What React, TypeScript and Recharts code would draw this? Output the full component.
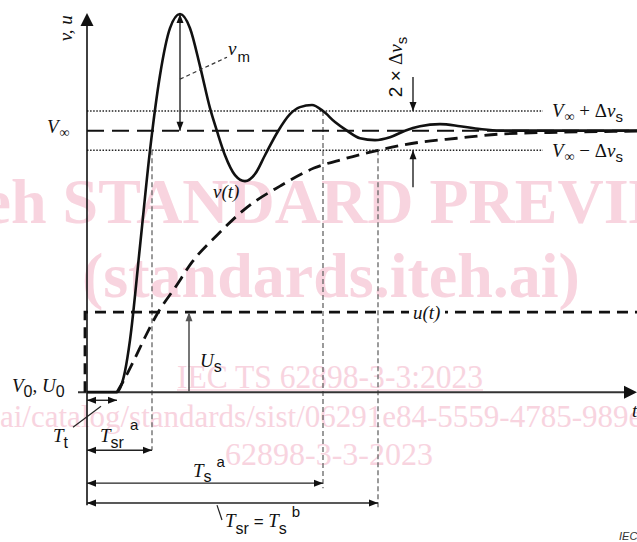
import React from 'react';
import { ComposedChart, Line, Scatter, XAxis, YAxis } from 'recharts';

const SERIF = "'Liberation Serif','Times New Roman',serif";
const SANS = "'Liberation Sans',Arial,sans-serif";
const PINK = '#f8d4df';

// v(t): response of the output (V_inf = 1)
const vCurve = [
  { t: 0, v: 0 }, { t: 0.6, v: 0 }, { t: 0.68, v: 0.023 }, { t: 0.76, v: 0.08 },
  { t: 0.86, v: 0.199 }, { t: 1.06, v: 0.558 }, { t: 1.26, v: 0.925 }, { t: 1.46, v: 1.212 },
  { t: 1.66, v: 1.392 }, { t: 1.86, v: 1.446 }, { t: 2.06, v: 1.392 }, { t: 2.26, v: 1.247 },
  { t: 2.46, v: 1.086 }, { t: 2.6, v: 0.998 }, { t: 2.76, v: 0.906 }, { t: 2.96, v: 0.83 },
  { t: 3.16, v: 0.807 }, { t: 3.36, v: 0.834 }, { t: 3.56, v: 0.906 }, { t: 3.82, v: 0.998 },
  { t: 4.06, v: 1.063 }, { t: 4.26, v: 1.09 }, { t: 4.5, v: 1.098 }, { t: 4.72, v: 1.075 },
  { t: 4.96, v: 1.033 }, { t: 5.2, v: 1.0 }, { t: 5.46, v: 0.971 }, { t: 5.76, v: 0.964 },
  { t: 6.06, v: 0.975 }, { t: 6.36, v: 1.0 }, { t: 6.66, v: 1.017 }, { t: 7.06, v: 1.025 },
  { t: 7.46, v: 1.017 }, { t: 7.86, v: 1.006 }, { t: 8.26, v: 1.0 }, { t: 11, v: 1.0 },
];

// aperiodic (overdamped) response
const expCurve = [
  { t: 0.6, v: 0 }, { t: 0.76, v: 0.054 }, { t: 0.96, v: 0.13 }, { t: 1.16, v: 0.21 },
  { t: 1.4, v: 0.298 }, { t: 1.78, v: 0.405 }, { t: 2.1, v: 0.497 }, { t: 2.62, v: 0.604 },
  { t: 3.2, v: 0.707 }, { t: 3.86, v: 0.788 }, { t: 4.54, v: 0.857 }, { t: 5.12, v: 0.891 },
  { t: 5.82, v: 0.925 }, { t: 6.66, v: 0.956 }, { t: 7.4, v: 0.971 }, { t: 8.26, v: 0.987 },
  { t: 9.46, v: 0.994 }, { t: 11, v: 0.998 },
];

// u(t): input step
const uCurve = [{ t: -0.04, v: 0 }, { t: -0.04, v: 0.306 }, { t: 11, v: 0.306 }];

const vInfLine = [{ t: 0, v: 1 }, { t: 11, v: 1 }];
const upperBand = [{ t: 0, v: 1.075 }, { t: 9.12, v: 1.075 }];
const lowerBand = [{ t: 0, v: 0.925 }, { t: 9.12, v: 0.925 }];

// projection lines
const tsrProj = [{ t: 1.3, v: 0.925 }, { t: 1.3, v: -0.222 }];
const tsProj = [{ t: 4.72, v: 1.075 }, { t: 4.72, v: -0.367 }];
const tsbProj = [{ t: 5.82, v: 0.925 }, { t: 5.82, v: -0.44 }];

// axes
const yAxisLine = [{ t: 0, v: -0.432 }, { t: 0, v: 1.41 }];
const xAxisLine = [{ t: -0.18, v: 0 }, { t: 10.8, v: 0 }];

// dimension arrows
const ttDim = [{ t: 0, v: -0.031 }, { t: 0.6, v: -0.031 }];
const tsrDim = [{ t: 0, v: -0.222 }, { t: 1.3, v: -0.222 }];
const tsDim = [{ t: 0, v: -0.348 }, { t: 4.72, v: -0.348 }];
const tsbDim = [{ t: 0, v: -0.424 }, { t: 5.82, v: -0.424 }];
const vmDim = [{ t: 1.86, v: 1.446 }, { t: 1.86, v: 1.0 }];
const usDim = [{ t: 2.04, v: 0 }, { t: 2.04, v: 0.3 }];
const dvTop = [{ t: 6.52, v: 1.205 }, { t: 6.52, v: 1.075 }];
const dvBot = [{ t: 6.52, v: 0.784 }, { t: 6.52, v: 0.925 }];

// leader lines
const vmLeader = [{ t: 1.86, v: 1.197 }, { t: 2.8, v: 1.281 }];
const ttLeader = [{ t: 0.28, v: -0.054 }, { t: -0.28, v: -0.134 }];
const tsbLeader = [{ t: 2.6, v: -0.432 }, { t: 2.7, v: -0.489 }];

const axisHeads = [
  { t: 0, v: 1.45, dir: 'up' },
  { t: 11, v: 0, dir: 'right' },
];
const dimHeads = [
  { t: 0, v: -0.031, dir: 'left' }, { t: 0.6, v: -0.031, dir: 'right' },
  { t: 0, v: -0.222, dir: 'left' }, { t: 1.3, v: -0.222, dir: 'right' },
  { t: 0, v: -0.348, dir: 'left' }, { t: 4.72, v: -0.348, dir: 'right' },
  { t: 0, v: -0.424, dir: 'left' }, { t: 5.82, v: -0.424, dir: 'right' },
  { t: 1.86, v: 1.446, dir: 'up' }, { t: 1.86, v: 1.0, dir: 'down' },
  { t: 6.52, v: 1.075, dir: 'down' }, { t: 6.52, v: 0.925, dir: 'up' },
];
const grayHeads = [{ t: 2.04, v: 0.306, dir: 'up' }];

const labels = [
  { key: 'vu', t: -0.3, v: 1.392 },
  { key: 'Vinf', t: -0.8, v: 0.99 },
  { key: 'vm', t: 2.82, v: 1.289 },
  { key: 'vt', t: 2.52, v: 0.742 },
  { key: 'ut', t: 6.52, v: 0.279 },
  { key: 'Us', t: 2.26, v: 0.096 },
  { key: 'V0U0', t: -1.5, v: 0 },
  { key: 'Tt', t: -0.68, v: -0.191 },
  { key: 'Tsra', t: 0.26, v: -0.191 },
  { key: 'Tsa', t: 2.12, v: -0.325 },
  { key: 'TsrTsb', t: 2.76, v: -0.516 },
  { key: 'Vplus', t: 9.3, v: 1.052 },
  { key: 'Vminus', t: 9.3, v: 0.9 },
  { key: 'dv2', t: 6.3, v: 1.128 },
  { key: 'tAxis', t: 10.9, v: -0.096 },
  { key: 'iec', t: 10.64, v: -0.566 },
];

const makeHead = (L: number, w: number, fill: string) => (p: any) => {
  const { cx, cy, payload } = p;
  if (cx == null || cy == null) return <g />;
  let pts = '';
  switch (payload.dir) {
    case 'up': pts = `${cx},${cy} ${cx - w},${cy + L} ${cx + w},${cy + L}`; break;
    case 'down': pts = `${cx},${cy} ${cx - w},${cy - L} ${cx + w},${cy - L}`; break;
    case 'left': pts = `${cx},${cy} ${cx + L},${cy - w} ${cx + L},${cy + w}`; break;
    default: pts = `${cx},${cy} ${cx - L},${cy - w} ${cx - L},${cy + w}`;
  }
  return <polygon points={pts} fill={fill} stroke="none" />;
};

const axisHead = makeHead(13, 6.5, '#111');
const dimHead = makeHead(9, 3.5, '#111');
const grayHead = makeHead(9, 3.5, '#555');

const IT = { fontFamily: SERIF, fontStyle: 'italic' as const, fontSize: 19, fill: '#111' };
const SUB = { fontFamily: SANS, fontStyle: 'normal' as const, fontSize: 15 };

const renderLabel = (p: any) => {
  const { cx, cy, payload } = p;
  if (cx == null || cy == null) return <g />;
  switch (payload.key) {
    case 'vu':
      return <text x={cx} y={cy} transform={`rotate(-90 ${cx} ${cy})`} textAnchor="middle" {...IT}>v, u</text>;
    case 'Vinf':
      return (
        <text x={cx} y={cy} {...IT}>V<tspan fontStyle="normal" fontSize={14} dx={1} dy={4}>∞</tspan></text>
      );
    case 'vm':
      return <text x={cx} y={cy} {...IT}>v<tspan {...SUB} dx={1} dy={7}>m</tspan></text>;
    case 'vt':
      return <text x={cx} y={cy} {...IT}>v(t)</text>;
    case 'ut':
      return (
        <g>
          <rect x={cx - 4} y={cy - 16} width={36} height={22} fill="#fff" />
          <text x={cx} y={cy} {...IT}>u(t)</text>
        </g>
      );
    case 'Us':
      return <text x={cx} y={cy} {...IT}>U<tspan {...SUB} fontSize={16} dy={5}>s</tspan></text>;
    case 'V0U0':
      return (
        <text x={cx} y={cy} {...IT}>
          V<tspan {...SUB} fontSize={16} dy={5}>0</tspan>
          <tspan fontStyle="normal" dy={-5}>, </tspan>U<tspan {...SUB} fontSize={16} dy={5}>0</tspan>
        </text>
      );
    case 'Tt':
      return <text x={cx} y={cy} {...IT}>T<tspan {...SUB} fontSize={16} dy={6}>t</tspan></text>;
    case 'Tsra':
      return (
        <text x={cx} y={cy} {...IT}>
          T<tspan {...SUB} fontSize={16} dy={6}>sr</tspan>
          <tspan {...SUB} fontSize={15} dx={6} dy={-18}>a</tspan>
        </text>
      );
    case 'Tsa':
      return (
        <text x={cx} y={cy} {...IT}>
          T<tspan {...SUB} fontSize={16} dy={5}>s</tspan>
          <tspan {...SUB} fontSize={15} dx={5} dy={-15}>a</tspan>
        </text>
      );
    case 'TsrTsb':
      return (
        <text x={cx} y={cy} {...IT}>
          T<tspan {...SUB} fontSize={16} dy={7}>sr</tspan>
          <tspan {...SUB} fontSize={17} dy={-7}> = </tspan>T
          <tspan {...SUB} fontSize={16} dy={7}>s</tspan>
          <tspan {...SUB} fontSize={15} dx={5} dy={-17}>b</tspan>
        </text>
      );
    case 'Vplus':
    case 'Vminus':
      return (
        <text x={cx} y={cy} {...IT}>
          V<tspan fontStyle="normal" fontSize={14} dx={1} dy={4}>∞</tspan>
          <tspan fontStyle="normal" dy={-4}>{payload.key === 'Vplus' ? ' + Δ' : ' − Δ'}</tspan>v
          <tspan {...SUB} dy={5}>s</tspan>
        </text>
      );
    case 'dv2':
      return (
        <text x={cx} y={cy} transform={`rotate(-90 ${cx} ${cy})`} {...IT}>
          <tspan fontFamily={SANS} fontStyle="normal" fontSize={19}>2 × </tspan>
          <tspan fontStyle="normal">Δ</tspan>v<tspan {...SUB} dy={5}>s</tspan>
        </text>
      );
    case 'tAxis':
      return <text x={cx} y={cy} {...IT}>t</text>;
    case 'iec':
      return <text x={cx} y={cy} fontFamily={SANS} fontStyle="italic" fontSize={11} fill="#333">IEC</text>;
    default:
      return <g />;
  }
};

const plain = { dot: false, activeDot: false, isAnimationActive: false, type: 'linear' as const, legendType: 'none' as const };

export default function App() {
  return (
    <div style={{ position: 'absolute', left: 0, top: 0, width: 637, height: 542, background: '#fff' }}>
      <svg width={637} height={542} style={{ position: 'absolute', left: 0, top: 0 }}>
        <g fill={PINK} fontFamily={SERIF}>
          <text x={-72} y={223} fontSize={64} fontWeight="bold">iTeh STANDARD PREVIEW</text>
          <text x={82} y={297} fontSize={64} fontWeight="bold">(standards.iteh.ai)</text>
          <text x={177} y={388} fontSize={34} textLength={306} lengthAdjust="spacingAndGlyphs">IEC TS 62898-3-3:2023</text>
          <text x={0} y={427} fontSize={31}>ai/catalog/standards/sist/06291e84-5559-4785-989e</text>
          <text x={225} y={465} fontSize={32}>62898-3-3-2023</text>
        </g>
        <line x1={177} x2={483} y1={390} y2={390} stroke={PINK} strokeWidth={1.5} />
      </svg>
      <div style={{ position: 'absolute', left: 0, top: 0 }}>
        <ComposedChart width={637} height={542} margin={{ top: 13, right: 0, bottom: 0, left: 0 }}>
          <XAxis type="number" dataKey="t" domain={[-1.74, 11]} hide />
          <YAxis type="number" dataKey="v" domain={[-0.573, 1.45]} hide />

          <Line {...plain} data={upperBand} dataKey="v" stroke="#222" strokeWidth={1.6} strokeDasharray="1.5 1.6" />
          <Line {...plain} data={lowerBand} dataKey="v" stroke="#222" strokeWidth={1.6} strokeDasharray="1.5 1.6" />
          <Line {...plain} data={tsrProj} dataKey="v" stroke="#666" strokeWidth={1.3} strokeDasharray="5 3" />
          <Line {...plain} data={tsProj} dataKey="v" stroke="#666" strokeWidth={1.3} strokeDasharray="5 3" />
          <Line {...plain} data={tsbProj} dataKey="v" stroke="#666" strokeWidth={1.3} strokeDasharray="5 3" />

          <Line {...plain} data={yAxisLine} dataKey="v" stroke="#111" strokeWidth={1.6} />
          <Line {...plain} data={xAxisLine} dataKey="v" stroke="#333" strokeWidth={2} />

          <Line {...plain} data={vInfLine} dataKey="v" stroke="#111" strokeWidth={2} strokeDasharray="17 8" />
          <Line {...plain} data={uCurve} dataKey="v" stroke="#111" strokeWidth={2.8} strokeDasharray="11 7" />
          <Line {...plain} type="monotone" data={expCurve} dataKey="v" stroke="#111" strokeWidth={2.8} strokeDasharray="13 7" />
          <Line {...plain} type="monotone" data={vCurve} dataKey="v" stroke="#111" strokeWidth={2.6} />

          <Line {...plain} data={ttDim} dataKey="v" stroke="#222" strokeWidth={1.4} />
          <Line {...plain} data={tsrDim} dataKey="v" stroke="#222" strokeWidth={1.4} />
          <Line {...plain} data={tsDim} dataKey="v" stroke="#222" strokeWidth={1.4} />
          <Line {...plain} data={tsbDim} dataKey="v" stroke="#222" strokeWidth={1.4} />
          <Line {...plain} data={vmDim} dataKey="v" stroke="#222" strokeWidth={1.4} />
          <Line {...plain} data={usDim} dataKey="v" stroke="#555" strokeWidth={1.6} />
          <Line {...plain} data={dvTop} dataKey="v" stroke="#222" strokeWidth={1.4} />
          <Line {...plain} data={dvBot} dataKey="v" stroke="#222" strokeWidth={1.4} />

          <Line {...plain} data={vmLeader} dataKey="v" stroke="#333" strokeWidth={1.2} strokeDasharray="4 3" />
          <Line {...plain} data={ttLeader} dataKey="v" stroke="#222" strokeWidth={1.2} />
          <Line {...plain} data={tsbLeader} dataKey="v" stroke="#222" strokeWidth={1.2} />

          <Scatter data={axisHeads} dataKey="v" shape={axisHead} isAnimationActive={false} legendType="none" />
          <Scatter data={dimHeads} dataKey="v" shape={dimHead} isAnimationActive={false} legendType="none" />
          <Scatter data={grayHeads} dataKey="v" shape={grayHead} isAnimationActive={false} legendType="none" />
          <Scatter data={labels} dataKey="v" shape={renderLabel} isAnimationActive={false} legendType="none" />
        </ComposedChart>
      </div>
    </div>
  );
}
